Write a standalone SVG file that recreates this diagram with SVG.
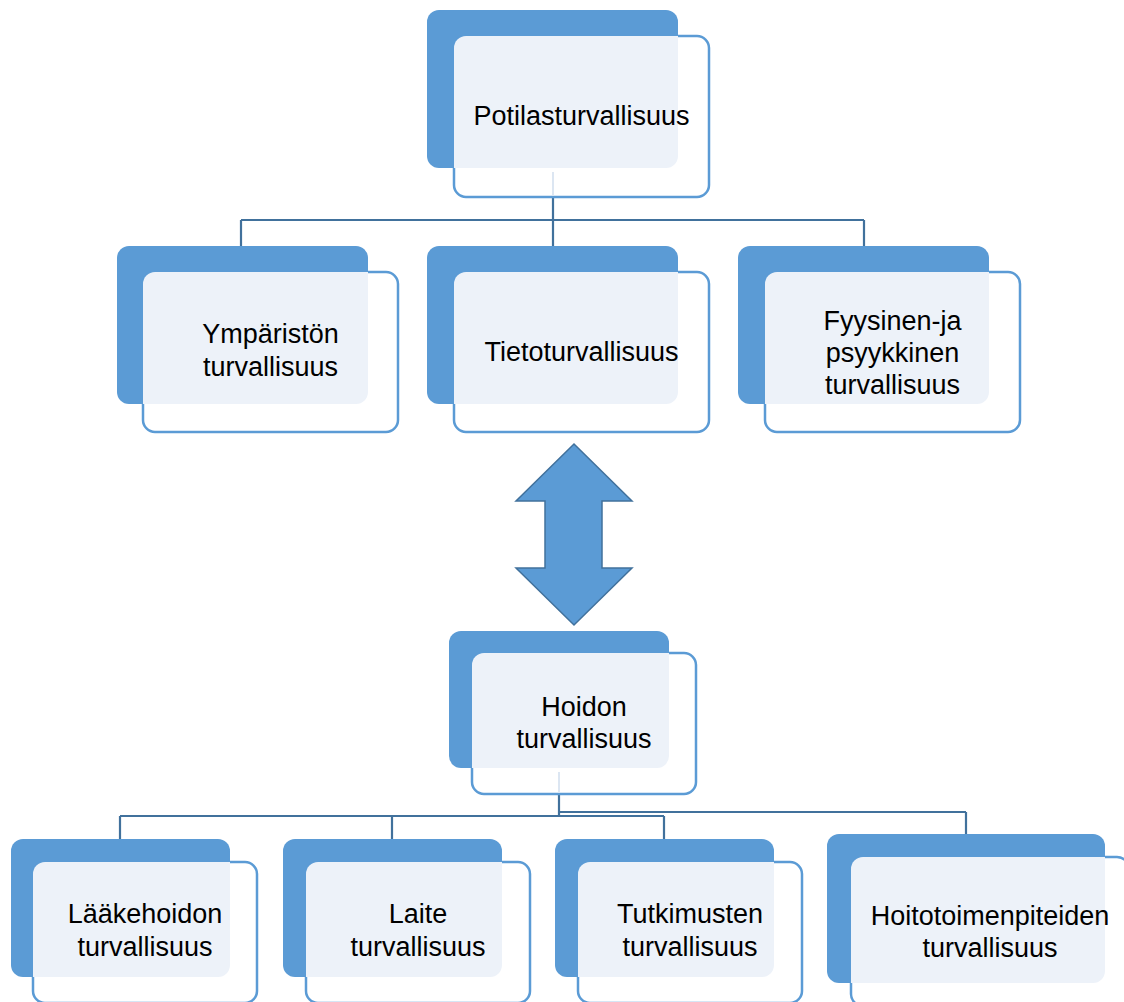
<svg xmlns="http://www.w3.org/2000/svg" width="1124" height="1002" viewBox="0 0 1124 1002">
<style>
.back{fill:#5B9BD5}
.front{fill:#FFFFFF;stroke:#5B9BD5;stroke-width:2.5}
.inter{fill:#EDF2F9}
.lbl{font-family:"Liberation Sans",Arial,sans-serif;font-size:27px;fill:#000;text-anchor:middle}
.conn{fill:none;stroke:#41719C;stroke-width:2.2}
.faint{fill:none;stroke:#DCE6F2;stroke-width:2}
</style>
<rect width="1124" height="1002" fill="#FFFFFF"/>
<g id="connectors">
<path class="conn" d="M553,197 V220 M241,220 H864 M241,220 V246 M553,220 V246 M864,220 V246"/>
<path class="conn" d="M559,794 V816 M120,816 H664 M559,812 H966 M120,816 V839 M392,816 V839 M664,816 V839 M966,812 V834"/>
</g>
<g id="n-top">
<rect class="back" x="427" y="10" width="251" height="158" rx="12"/>
<rect class="front" x="454" y="36" width="255" height="161" rx="12"/>
<path class="inter" d="M454,48 A12,12 0 0 1 466,36 H678 V156 A12,12 0 0 1 666,168 H454 Z"/>
<path class="faint" d="M553,172 V196"/>
<text class="lbl" x="581.5" y="125">Potilasturvallisuus</text>
</g>
<g id="n-ymparisto">
<rect class="back" x="117" y="246" width="251" height="158" rx="12"/>
<rect class="front" x="143" y="272" width="255" height="160" rx="12"/>
<path class="inter" d="M143,284 A12,12 0 0 1 155,272 H368 V392 A12,12 0 0 1 356,404 H143 Z"/>
<text class="lbl" x="270.5" y="343">Ympäristön</text>
<text class="lbl" x="270.5" y="376">turvallisuus</text>
</g>
<g id="n-tieto">
<rect class="back" x="427" y="246" width="251" height="158" rx="12"/>
<rect class="front" x="454" y="272" width="255" height="160" rx="12"/>
<path class="inter" d="M454,284 A12,12 0 0 1 466,272 H678 V392 A12,12 0 0 1 666,404 H454 Z"/>
<text class="lbl" x="581.5" y="361">Tietoturvallisuus</text>
</g>
<g id="n-fyysinen">
<rect class="back" x="738" y="246" width="251" height="158" rx="12"/>
<rect class="front" x="765" y="272" width="255" height="160" rx="12"/>
<path class="inter" d="M765,284 A12,12 0 0 1 777,272 H989 V392 A12,12 0 0 1 977,404 H765 Z"/>
<text class="lbl" x="892.5" y="330">Fyysinen-ja</text>
<text class="lbl" x="892.5" y="362">psyykkinen</text>
<text class="lbl" x="892.5" y="394">turvallisuus</text>
</g>
<g id="arrow">
<polygon points="574,444 632,501 602,501 602,568 632,568 574,625 516,568 545,568 545,501 516,501" fill="#5B9BD5" stroke="#41719C" stroke-width="1.5" stroke-linejoin="miter"/>
</g>
<g id="n-hoidon">
<rect class="back" x="449" y="631" width="220" height="137" rx="12"/>
<rect class="front" x="472" y="653" width="224" height="141" rx="12"/>
<path class="inter" d="M472,665 A12,12 0 0 1 484,653 H669 V756 A12,12 0 0 1 657,768 H472 Z"/>
<path class="faint" d="M559,772 V793"/>
<text class="lbl" x="584" y="716">Hoidon</text>
<text class="lbl" x="584" y="748">turvallisuus</text>
</g>
<g id="n-laakehoito">
<rect class="back" x="11" y="839" width="219" height="138" rx="12"/>
<rect class="front" x="33" y="862" width="224" height="141" rx="12"/>
<path class="inter" d="M33,874 A12,12 0 0 1 45,862 H230 V965 A12,12 0 0 1 218,977 H33 Z"/>
<text class="lbl" x="145" y="923">Lääkehoidon</text>
<text class="lbl" x="145" y="956">turvallisuus</text>
</g>
<g id="n-laite">
<rect class="back" x="283" y="839" width="219" height="138" rx="12"/>
<rect class="front" x="306" y="862" width="224" height="141" rx="12"/>
<path class="inter" d="M306,874 A12,12 0 0 1 318,862 H502 V965 A12,12 0 0 1 490,977 H306 Z"/>
<text class="lbl" x="418" y="923">Laite</text>
<text class="lbl" x="418" y="956">turvallisuus</text>
</g>
<g id="n-tutkimus">
<rect class="back" x="555" y="839" width="219" height="138" rx="12"/>
<rect class="front" x="578" y="862" width="224" height="141" rx="12"/>
<path class="inter" d="M578,874 A12,12 0 0 1 590,862 H774 V965 A12,12 0 0 1 762,977 H578 Z"/>
<text class="lbl" x="690" y="923">Tutkimusten</text>
<text class="lbl" x="690" y="956">turvallisuus</text>
</g>
<g id="n-hoitotoimenpide">
<rect class="back" x="827" y="834" width="278" height="149" rx="12"/>
<rect class="front" x="851" y="857" width="278" height="149" rx="12"/>
<path class="inter" d="M851,869 A12,12 0 0 1 863,857 H1105 V971 A12,12 0 0 1 1093,983 H851 Z"/>
<text class="lbl" x="990" y="925">Hoitotoimenpiteiden</text>
<text class="lbl" x="990" y="957">turvallisuus</text>
</g>
</svg>
